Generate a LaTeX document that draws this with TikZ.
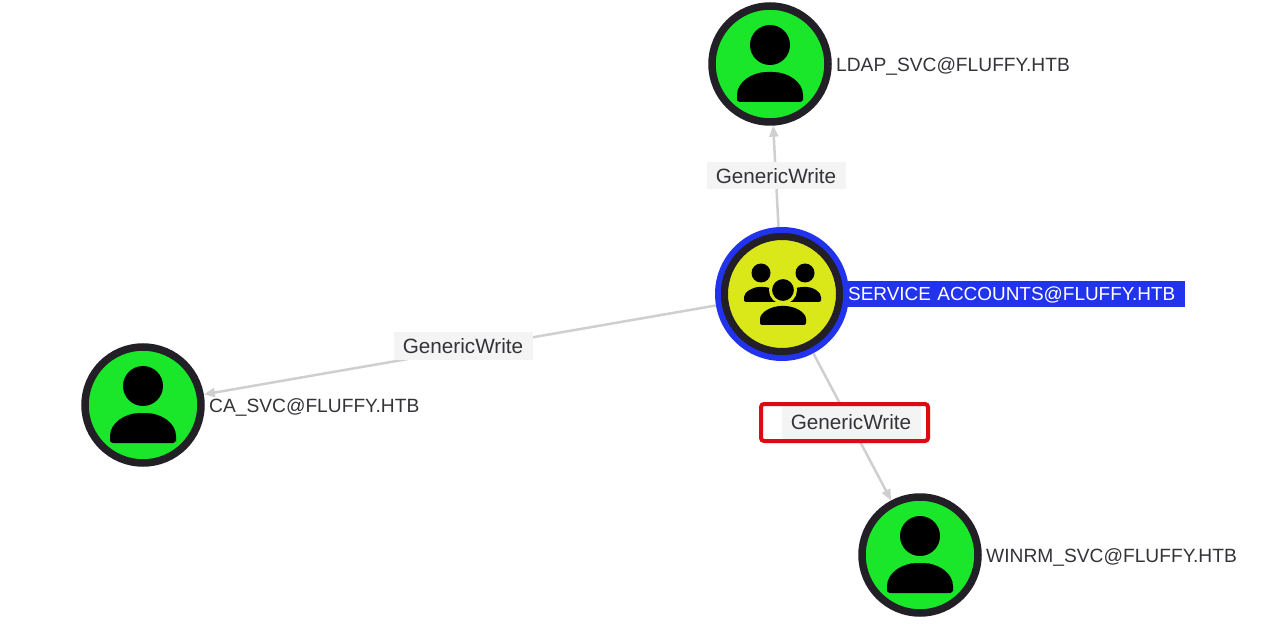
\documentclass[tikz,border=0pt]{standalone}
\usepackage{fontspec}
\setmainfont{Liberation Sans}
\usepackage{tikz}
\usetikzlibrary{arrows.meta, positioning}
\definecolor{bhgreen}{HTML}{1AE62A}
\definecolor{bhyellow}{HTML}{DAE81A}
\definecolor{bhdark}{HTML}{221F26}
\definecolor{bhblue}{HTML}{2233EE}
\definecolor{bhedge}{HTML}{CFCFCF}
\definecolor{bhlabel}{HTML}{F4F4F4}
\definecolor{bhtext}{HTML}{333338}
\definecolor{bhred}{HTML}{DD0A12}

\begin{document}
\begin{tikzpicture}[
    x=1pt, y=-1pt,
    font=\fontsize{19.2}{21}\selectfont,
    usernode/.style={circle, draw=bhdark, line width=7.5pt, fill=bhgreen, minimum size=116pt, inner sep=0pt},
    grouprim/.style={circle, draw=bhblue, line width=6pt, fill=bhdark, minimum size=128pt, inner sep=0pt},
    groupnode/.style={circle, draw=bhdark, line width=7pt, fill=bhyellow, minimum size=115pt, inner sep=0pt},
    acct/.style={anchor=west, text=bhtext, inner sep=0pt, text height=14pt, text depth=0pt},
    selacct/.style={anchor=west, text=white, fill=bhblue, inner xsep=0pt, inner ysep=0pt,
                    minimum height=26pt, align=left, text width=337pt, text height=14pt, text depth=0pt,
                    font=\fontsize{18.95}{21}\selectfont},
    lbl/.style={fill=bhlabel, text=bhtext, inner sep=0pt, minimum width=139pt, minimum height=27pt,
                font=\fontsize{20.7}{22}\selectfont},
    markbox/.style={draw=bhred, line width=4pt, rounded corners=3pt, minimum width=167pt, minimum height=37pt},
    arr/.style={-{Triangle[length=11pt, width=9pt]}, bhedge, line width=2.5pt},
    usericon/.pic={
      \fill[black] (0,-19) circle (20);
      \fill[black, rounded corners=3pt] (-33,38) -- (-33,34) .. controls (-33,18) and (-18,8) .. (0,8)
        .. controls (18,8) and (33,18) .. (33,34) -- (33,38) -- cycle;
    },
    groupicon/.pic={
      \fill[black] (-21,-21) circle (9.5);
      \fill[black] (23,-21) circle (9.5);
      \fill[black, rounded corners=2pt] (-38,8) -- (-38,5) .. controls (-38,-2) and (-29,-7) .. (-21,-7)
        .. controls (-13,-7) and (-8,-5) .. (-5,0) -- (-5,8) -- cycle;
      \fill[black, rounded corners=2pt] (39,8) -- (39,5) .. controls (39,-2) and (31,-7) .. (23,-7)
        .. controls (15,-7) and (10,-5) .. (7,0) -- (7,8) -- cycle;
      \filldraw[fill=black, draw=bhyellow, line width=3pt] (1,-4) circle (12.5);
      \fill[black, rounded corners=2pt] (-22,31) -- (-22,27) .. controls (-22,18) and (-10,12) .. (1,12)
        .. controls (12,12) and (24,18) .. (24,27) -- (24,31) -- cycle;
    }]
  \useasboundingbox (0,0) rectangle (1280,628);

  % ---- nodes ----
  \node[grouprim]  (svcrim) at (782,294) {};
  \node[groupnode] (svc)    at (782,294) {};
  \node[usernode]  (ldap)   at (770,64)  {};
  \node[usernode]  (ca)     at (143,405) {};
  \node[usernode]  (winrm)  at (920,555) {};

  \pic at (svc)   {groupicon};
  \pic at (ldap)  {usericon};
  \pic at (ca)    {usericon};
  \pic at (winrm) {usericon};

  \node[selacct] (svcname)   at (848,294) {SERVICE ACCOUNTS@FLUFFY.HTB};
  \node[acct]    (ldapname)  at (836,65)  {LDAP\_SVC@FLUFFY.HTB};
  \node[acct]    (caname)    at (209,405) {CA\_SVC@FLUFFY.HTB};
  \node[acct]    (winrmname) at (986,555) {WINRM\_SVC@FLUFFY.HTB};

  % ---- edges ----
  \draw[arr] (svcrim) -- (ldap);
  \draw[arr] (svcrim) -- (ca);
  \draw[arr] (svcrim) -- (winrm);

  % edge labels sit on top of the lines
  \node[lbl] (toldap)  at (776,176) {GenericWrite};
  \node[lbl] (toca)    at (463,346) {GenericWrite};
  \node[lbl, minimum height=33pt] (towinrm) at (851,422) {GenericWrite};
  \node[markbox] (marked) at (844.5,422.5) {};
\end{tikzpicture}
\end{document}
